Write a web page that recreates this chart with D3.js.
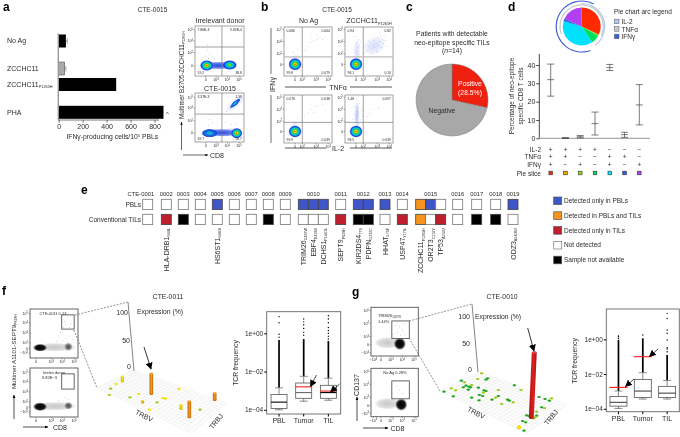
<!DOCTYPE html>
<html><head><meta charset="utf-8">
<style>html,body{margin:0;padding:0;background:#fff}svg{display:block;filter:blur(0.32px)}text{font-family:"Liberation Sans",Arial,sans-serif;fill:#2a2a2a}</style>
<script src="https://cdn.jsdelivr.net/npm/d3@7/dist/d3.min.js"></script></head><body>
<script>
// ---------- panel a ----------
const aCats = ['No Ag','ZCCHC11','ZCCHC11_{P1265H}','PHA'];
const aVals = [60,50,480,875];
const aErrHi = [72,60,482,877];
const aTicks = [0,200,400,600,800];
// flow blobs: [density kind, channel x, channel y, spread x, spread y, tilt]
const flowA1 = [['band',47,21,38,8,0],['warm',71,22,15,10,0],['hot',24,21,14,11,0]];
const flowA2 = [['band',55,19,42,8,0],['faint',82,79,26,9,-42],['cool',30,18,17,9,0],['cool',82,79,14,4.5,-42],['hot',85,18,12,11,0]];
const flowAtext1 = ['7.86E-3','9.82E-4','59.2','38.8'];
const flowAtext2 = ['3.37E-3','1.59','39.7','58.7'];
const scatA1 = [[22,40],[25,52],[28,35],[30,44],[35,38],[18,34],[60,36],[70,40],[78,34],[26,62],[40,34]];
const scatA2 = [[65,62],[72,68],[70,56],[92,90],[88,88],[62,40],[28,34],[35,38],[75,36],[84,35],[30,46]];
// ---------- panel b ----------
const flowB1 = [['faint',23,30,9,16,0],['hot',23,24,14,13,0]];
const flowB2 = [['faint',25,50,7,26,0],['faint',62,62,25,18,-30],['hot',23,24,14,13,0]];
const flowB3 = [['faint',23,32,9,15,0],['hot',23,24,14,13,0]];
const flowB4 = [['faint',25,58,6,32,0],['faint',25,58,4,28,0],['hot',23,24,14,13,0]];
const flowBtext = [['0.086','0.064','99.8','0.079'],['0.94','0.82','98.1','0.10'],['0.076','0.038','99.9','0.039'],['1.48','0.097','98.5','0.039']];
const scatB1 = [[55,68],[62,72],[70,74],[75,78],[68,82],[80,75],[50,60],[58,78],[28,55],[20,48],[30,42],[44,52]];
const scatB2 = [[45,52],[50,60],[52,68],[55,55],[58,64],[60,72],[62,58],[65,66],[68,78],[70,62],[72,70],[74,82],[76,58],[78,74],[80,66],[82,80],[84,72],[66,50],[56,46],[48,72],[42,62],[40,48],[38,58],[86,60],[72,88],[60,84],[22,48],[26,58],[24,66],[28,74],[21,80],[27,44],[30,62],[18,54],[33,70],[36,78]];
const scatB3 = [[50,62],[58,70],[66,76],[72,78],[80,80],[62,64],[28,52],[20,46],[42,56]];
const scatB4 = [[20,42],[22,50],[24,58],[26,66],[28,74],[30,82],[18,60],[32,48],[34,68],[20,76],[27,88],[24,92],[36,56],[16,50],[29,40],[45,55],[52,62],[60,70],[70,74]];
// ---------- panel c ----------
const cNames = ['Positive','Negative'];
const cVals = [28.5,71.5];
// ---------- panel d ----------
const dSlices = ['s1','s2','s3','s4','s5','s6','s7'];
const dMean = [32,0.15,0.8,8,38.6,2,18.2];
const dLow = [23,0,0.2,1.8,37,0.5,7.3];
const dHigh = [40.5,0.3,1.5,14.3,40.3,3.3,29.3];
const dIL2 = ['+','+','+','+','−','−','−'];
const dTNF = ['+','+','−','−','+','+','−'];
const dIFN = ['+','−','+','−','+','−','+'];
const dTicks = [0,10,20,30,40];
const dColors = ['#ff2a00','#f5a800','#8ae000','#00e060','#00e0ff','#2860e0','#b040f0'];
const dArcNames = ['IL-2','TNFα','IFNγ'];
const dArcColors = ['#b4c8ec','#c8c8c8','#3f60d8'];
const dArcStart = [0,250,160];
const dArcEnd = [145,475,388];
// ---------- panel e ----------
const ePatients = ['0001','0002','0003','0004','0005','0006','0007','0008','0009','0010','0011','0012','0013','0014','0015','0016','0017','0018','0019'];
const ePBL = [['N'],['N'],['N'],['N'],['P'],['N'],['N'],['N'],['N'],['P','P','P'],['N'],['P','P'],['P'],['N'],['B','P','N'],['N'],['N'],['N'],['P']];
const eTIL = [['N'],['T'],['X'],['N'],['N'],['N'],['N'],['X'],['N'],['N','N','N'],['T'],['X','X'],['N'],['T'],['B','N','T'],['N'],['X'],['X'],['N']];
const eGenes = [[1,0,'HLA-DRB1','S48L'],[4,0,'HS6ST1','S483I'],[9,0,'TRIM26','C487W'],[9,1,'EBF4','E426S'],[9,2,'DCHS1','P1441L'],[10,0,'SEPT9','P628H'],[11,0,'KIR2DS4','T7S'],[11,1,'PDPN','G232C'],[12,0,'HHAT','L75F'],[13,0,'USP47','Y17IL'],[14,0,'ZCCHC11','P1265H'],[14,1,'OR2T3','C132Y'],[14,2,'TP53','A159V'],[18,0,'ODZ3','A2408V']];
const eLegend = ['Detected only in PBLs','Detected in PBLs and TILs','Detected only in TILs','Not detected','Sample not available'];
const eCodes = ['P','B','T','N','X'];
const eColors = ['#3f55c8','#f7941d','#be1e2d','#ffffff','#000000'];
// ---------- panel f ----------
const flowF1 = [['inkFaint',52,22,46,9,0],['inkMid',80,23,9,9,0],['ink',21,21,15,8,0]];
const flowF2 = [['inkFaint',52,22,46,9,0],['inkMid',80,23,9,8,0],['ink',21,21,15,9,0]];
const gateF1 = [66,92,59,88];
const gateF2 = [66,92,57,88];
const scatF1 = [[72,75],[78,82],[74,68],[85,70],[70,62],[82,62],[60,45],[75,40],[82,45],[68,35],[55,33],[88,38],[78,33],[64,52]];
const scatF2 = [[74,40],[60,33],[80,36]];
const fFloorX = [78,62,58,120,146,178,201,219,226,267,330];
const fFloorY = [57,71,90,97,87,134,112,99,101,72,134];
const fFloorK = ['y','l','l','l','y','y','l','y','y','y','l'];
const fBarX = [97,158,273,374,184,298];
const fBarY = [50,113,133,105,87,157];
const fBarH = [10,3.3,7.5,11.6,35,25];
const fBarK = ['Y','A','Y','O','O','O'];
// ---------- panel g ----------
const flowG1 = [['inkFaint',35,27,28,12,0],['ink',61,25,13,13,0]];
const flowG2 = [['inkFaint',35,27,28,12,0],['ink',64,25,13,13,0]];
const gateG1 = [44,81,36,72];
const gateG2 = [44,81,37,74];
const scatG1 = [[60,60],[66,52],[55,48],[70,66],[52,62],[62,42],[72,44],[57,70],[48,45]];
const scatG2 = [[60,55],[68,48],[54,62]];
const gFloorX = [42,70,64,77,94,103,108,100,117,122,125,115,143,155,173,168,145,162,168,160,158,148,147,125,205,253,273,186,197,205,215,233,238,250,327,345,358,365,335,343,320,307,320,315,310,290,297,278,287,282];
const gFloorY = [80,94,70,76,47,52,62,67,65,67,60,74,42,25,40,44,68,76,78,83,93,90,106,98,75,61,75,104,98,93,117,104,107,112,96,102,107,100,127,129,140,142,152,157,160,151,153,168,172,197];
const gFloorK = ['g','g','l','l','g','l','g','g','g','g','l','g','l','l','g','g','g','g','g','l','g','g','g','g','l','g','l','g','l','g','l','g','g','l','g','g','g','l','g','l','l','g','g','l','l','g','g','g','g','g'];
const gBarX = [267,304];
const gBarY = [187,158];
const gBarH = [1.5,100];
const gBarK = ['Y','R'];
// ---------- TCR boxplots ----------
const boxCats = ['PBL','Tumor','TIL'];
const fLo=[-4,-3.55,-3.5], fQ1=[-3.93,-3.4,-3.4], fMed=[-3.6,-3.1,-3.1], fQ3=[-3.2,-2.6,-2.72], fHi=[-2.85,-2.25,-2.35], fBand=[-0.35,-0.3,-0.4];
const fDots=[[-0.2,-0.05,0.55,0.87],[-0.1,0.05,0.25,0.45,0.6,0.75],[-0.3,-0.15,0,0.15,0.3,0.55,0.75,0.92]];
const fRed=[null,-2.8,-3.02];
const gLo=[-3.98,-3.44,-3.44], gQ1=[-3.85,-3.35,-3.35], gMed=[-3.63,-2.98,-3.1], gQ3=[-3.29,-2.31,-2.71], gHi=[-2.98,-1.92,-2.37], gBand=[-0.04,0.06,-0.9];
const gDots=[[0.05,0.15,0.2],[0.25],[-0.71,-0.56,-0.48,-0.04,0.35,0.54,1.2,1.5]];
const gRed=[-2.77,-1,null];
const boxTickV=[0,-2,-4];
const boxTickL=['1e+00','1e−02','1e−04'];

// ---------- helpers ----------
const svg = d3.select('body').append('svg').attr('width',680).attr('height',437).attr('viewBox','0 0 680 437');
const defs = svg.append('defs');
const grads = {
 hot:[[0,'#e01010',1],[.16,'#ffd000',1],[.36,'#30d030',1],[.56,'#00d0e0',1],[.8,'#1040e0',1],[1,'#3050f0',0]],
 warm:[[0,'#f0e020',1],[.2,'#30d040',1],[.45,'#00c8e0',1],[.78,'#1040e0',1],[1,'#3050f0',0]],
 cool:[[0,'#20d8d0',1],[.5,'#1070e0',1],[.82,'#1040e0',.9],[1,'#3050f0',0]],
 band:[[0,'#2040e0',.95],[.7,'#2040e0',.6],[1,'#2040e0',0]],
 faint:[[0,'#4060e0',.2],[.7,'#4060e0',.1],[1,'#4060e0',0]],
 ink:[[0,'#000',1],[.62,'#000',.92],[1,'#000',0]],
 inkMid:[[0,'#000',.7],[.6,'#000',.4],[1,'#000',0]],
 inkFaint:[[0,'#444',.3],[.7,'#444',.18],[1,'#444',0]]
};
Object.entries(grads).forEach(([k,st])=>{
  const g=defs.append('radialGradient').attr('id','g-'+k);
  st.forEach(s=>g.append('stop').attr('offset',s[0]).attr('stop-color',s[1]).attr('stop-opacity',s[2]));
});
const cyl={O:['#bc6406','#f39a1e','#e08512','#f3a83c'],Y:['#c8b400','#f2e400','#e0d000','#fff040'],A:['#c89000','#f2c000','#e0a800','#ffd040'],R:['#a81414','#e02020','#cc1a1a','#e84040']};
Object.entries(cyl).forEach(([k,c])=>{
  const g=defs.append('linearGradient').attr('id','c-'+k);
  g.append('stop').attr('offset',0).attr('stop-color',c[0]);
  g.append('stop').attr('offset',.55).attr('stop-color',c[1]);
  g.append('stop').attr('offset',1).attr('stop-color',c[0]);
});
defs.append('marker').attr('id','ah').attr('viewBox','0 0 10 10').attr('refX',9).attr('refY',5).attr('markerWidth',5).attr('markerHeight',5).attr('markerUnits','strokeWidth').attr('orient','auto')
  .append('path').attr('d','M0,1L10,5L0,9Z').attr('fill','#000');
defs.append('marker').attr('id','ab').attr('viewBox','0 0 10 10').attr('refX',9).attr('refY',5).attr('markerWidth',7).attr('markerHeight',7).attr('markerUnits','userSpaceOnUse').attr('orient','auto')
  .append('path').attr('d','M0,0L10,5L0,10Z').attr('fill','#000');

function T(x,y,s,opt={}){
  const t=svg.append('text').attr('x',x).attr('y',y).attr('font-size',opt.size||7).attr('text-anchor',opt.anchor||'start');
  if(opt.bold)t.attr('font-weight','bold');
  if(opt.fill)t.style('fill',opt.fill);
  if(opt.rot!==undefined)t.attr('transform',`rotate(${opt.rot},${x},${y})`);
  const parts=s.split(/(_\{[^}]*\}|\^\{[^}]*\}|\*[^*]+\*)/).filter(p=>p.length);
  let shift=0;
  const base=opt.size||7, sm=opt.sub||base*0.55;
  parts.forEach(p=>{
    if(p[0]==='_'&&p[1]==='{'){const d=base*0.22-shift;shift+=d;t.append('tspan').attr('dy',d).attr('font-size',sm).text(p.slice(2,-1));}
    else if(p[0]==='^'&&p[1]==='{'){const d=-base*0.35-shift;shift+=d;t.append('tspan').attr('dy',d).attr('font-size',sm).text(p.slice(2,-1));}
    else if(p[0]==='*'){const d=-shift;shift+=d;t.append('tspan').attr('dy',d).attr('font-style','italic').text(p.slice(1,-1));}
    else{const d=-shift;shift+=d;t.append('tspan').attr('dy',d).text(p);}
  });
  return t;
}
function L(x1,y1,x2,y2,st='#555',w=0.8,extra={}){
  const l=svg.append('line').attr('x1',x1).attr('y1',y1).attr('x2',x2).attr('y2',y2).attr('stroke',st).attr('stroke-width',w);
  Object.entries(extra).forEach(([k,v])=>l.attr(k,v));
  return l;
}
function flow(f){
  const x=d3.scaleLinear().domain([0,100]).range([f.x,f.x+f.w]);
  const y=d3.scaleLinear().domain([0,100]).range([f.y+f.h,f.y]);
  const id='clip'+Math.round(f.x)+'_'+Math.round(f.y);
  defs.append('clipPath').attr('id',id).append('rect').attr('x',f.x).attr('y',f.y).attr('width',f.w).attr('height',f.h);
  const g=svg.append('g').attr('clip-path',`url(#${id})`);
  if(f.scat) g.selectAll('circle').data(f.scat).join('circle').attr('cx',d=>x(d[0])).attr('cy',d=>y(d[1])).attr('r',.4).attr('fill',f.dot||'#555').attr('fill-opacity',.7);
  g.selectAll('ellipse').data(f.blobs).join('ellipse')
    .attr('cx',d=>x(d[1])).attr('cy',d=>y(d[2]))
    .attr('rx',d=>x(d[3])-x(0)).attr('ry',d=>y(0)-y(d[4]))
    .attr('transform',d=>d[5]?`rotate(${d[5]},${x(d[1])},${y(d[2])})`:null)
    .attr('fill',d=>`url(#g-${d[0]})`);
  svg.append('rect').attr('x',f.x).attr('y',f.y).attr('width',f.w).attr('height',f.h).attr('fill','none').attr('stroke',f.frame||'#999').attr('stroke-width',f.fw||.9);
  if(f.qx!==undefined){L(x(f.qx),f.y,x(f.qx),f.y+f.h,'#777',.7);L(f.x,y(f.qy),f.x+f.w,y(f.qy),f.qw?'#bbb':'#777',f.qw||.7);}
  if(f.gate){const q=f.gate;svg.append('rect').attr('x',x(q[0])).attr('y',y(q[3])).attr('width',x(q[1])-x(q[0])).attr('height',y(q[2])-y(q[3])).attr('fill','none').attr('stroke','#555').attr('stroke-width',.9);}
  f.xt.forEach((v,i)=>{L(x(v),f.y+f.h,x(v),f.y+f.h+1.5,'#555',.5);T(x(v),f.y+f.h+5,f.xl[i],{size:3.6,anchor:'middle',sub:2.6});});
  f.yt.forEach((v,i)=>{L(f.x-1.5,y(v),f.x,y(v),'#555',.5);T(f.x-2,y(v)+1.3,f.yl[i],{size:3.6,anchor:'end',sub:2.6});});
  if(f.q){T(f.x+2.5,f.y+5,f.q[0],{size:3.4});T(f.x+f.w-2,f.y+5,f.q[1],{size:3.4,anchor:'end'});T(f.x+2.5,f.y+f.h-2,f.q[2],{size:3.4});T(f.x+f.w-2,f.y+f.h-2,f.q[3],{size:3.4,anchor:'end'});}
}
// Panel letters
[['a',3,11],['b',261,11],['c',406,11],['d',508,11],['e',81,194],['f',2,295],['g',352,296]].forEach(d=>T(d[1],d[2],d[0],{size:12,bold:true,fill:'#000'}));

// ---------- panel a ----------
{
  const x=d3.scaleLinear().domain([0,800]).range([58.7,154.5]);
  const y=d3.scaleOrdinal().domain(aCats).range([41,68.5,84.5,112.3]);
  T(152.5,12,'CTE-0015',{anchor:'middle',size:6.5});
  aCats.forEach((c,i)=>{
    T(7,y(c)+2.4,c,{size:7,sub:3.8});
    if(i<2) L(x(aVals[i]),y(c),x(aErrHi[i]),y(c),'#888',1.2), L(x(aErrHi[i]),y(c)-3,x(aErrHi[i]),y(c)+3,'#888',.6);
  });
  svg.selectAll('rect.abar').data(aCats).join('rect').attr('class','abar')
    .attr('x',x(0)).attr('y',d=>y(d)-6.5).attr('height',13)
    .attr('width',(d,i)=>x(aVals[i])-x(0))
    .attr('fill',(d,i)=>i===1?'#aaa':'#000').attr('stroke',(d,i)=>i===1?'#555':'none').attr('stroke-width',.6);
  const ax=svg.append('g').attr('transform','translate(0,120)').call(d3.axisBottom(x).tickValues(aTicks).tickSize(2.5).tickPadding(1.5));
  ax.selectAll('text').attr('font-size',7).attr('font-family','Liberation Sans');
  ax.select('.domain').attr('stroke','#777').attr('d','M58,0H159');
  ax.selectAll('.tick line').attr('stroke','#666');
  L(58.3,33.5,58.3,120,'#999',1.4);
  T(167.5,115.5,'^',{size:6,anchor:'middle'});
  T(112.3,139,'IFNγ-producing cells/10^{5} PBLs',{size:6.8,anchor:'middle',sub:4});
  T(220,22.5,'Irrelevant donor',{size:7,anchor:'middle'});
  T(220,90.5,'CTE-0015',{size:7,anchor:'middle'});
  T(184,75,'Multimer B2705-ZCCHC11_{P1265H}',{size:6.3,anchor:'middle',rot:-90,sub:3.6});
  L(181.5,150,181.5,122,'#000',.6,{'marker-end':'url(#ah)'});
  L(183,155,208,155,'#000',.6,{'marker-end':'url(#ah)'});
  T(210,157.5,'CD8',{size:7});
  const xt=[22,43,66,90], xl=['0','10^{3}','10^{4}','10^{5}'];
  flow({x:195,y:26,w:49,h:50,blobs:flowA1,scat:scatA1,dot:'#4060e0',qx:55,qy:58,q:flowAtext1,xt,xl,yt:[92,70,47,20],yl:['10^{5}','10^{4}','10^{2}','0']});
  flow({x:195,y:93,w:49,h:49,blobs:flowA2,scat:scatA2,dot:'#4060e0',qx:55,qy:57,q:flowAtext2,xt,xl,yt:[91,69,43,18],yl:['10^{5}','10^{4}','10^{2}','0']});
}
// ---------- panel b ----------
{
  T(337,12,'CTE-0015',{size:6.5,anchor:'middle'});
  T(308.5,23,'No Ag',{size:7,anchor:'middle'});
  T(369,23,'ZCCHC11_{P1265H}',{size:7,anchor:'middle',sub:3.8});
  const xt=[23,38,67,92], xl=['0','10^{2}','10^{3}','10^{4}'], yt=[95,70,45,24], yl=['10^{5}','10^{4}','10^{2}','0'];
  const cfg=[[284,27,flowB1,scatB1],[345,27,flowB2,scatB2],[284,95,flowB3,scatB3],[345,95,flowB4,scatB4]];
  cfg.forEach((c,i)=>flow({x:c[0],y:c[1],w:48,h:i<2?49:48,blobs:c[2],scat:c[3],dot:'#5070e0',qx:38,qy:i<2?39:43,qw:i<2?1.3:0,q:flowBtext[i],xt,xl,yt,yl}));
  L(271,28,271,74,'#999',1.4);
  L(271,95,271,143,'#999',1.4);
  L(285,87,326,87,'#444',.9); L(350,87,392,87,'#444',.9);
  T(338,89.5,'TNFα',{size:7,anchor:'middle'});
  L(285,148,326,148,'#444',.9); L(350,148,392,148,'#444',.9);
  T(338,150.5,'IL-2',{size:7,anchor:'middle'});
  T(274.5,84.5,'IFNγ',{size:7,anchor:'middle',rot:-90});
}
// ---------- panel c ----------
{
  T(452,35.5,'Patients with detectable',{size:6.8,anchor:'middle'});
  T(452,44.5,'neo-epitope specific TILs',{size:6.8,anchor:'middle'});
  T(452,52.5,'(*n*=14)',{size:6.8,anchor:'middle'});
  const pie=d3.pie().sort(null)(cVals);
  const arc=d3.arc().innerRadius(0).outerRadius(36);
  svg.append('g').attr('transform','translate(452,100)').selectAll('path').data(pie).join('path')
    .attr('d',arc).attr('fill',(d,i)=>['#f02010','#a8a8a8'][i]).attr('stroke','#777').attr('stroke-width',.5);
  T(470,86,cNames[0],{size:6.8,anchor:'middle',fill:'#fff'});
  T(470,95,'(28.5%)',{size:6.8,anchor:'middle',fill:'#fff'});
  T(442,112.5,cNames[1],{size:6.8,anchor:'middle'});
}
// ---------- panel d ----------
{
  const cx=581.7,cy=26.5;
  const pie=d3.pie().sort(null)(dMean);
  const g=svg.append('g').attr('transform',`translate(${cx},${cy})`);
  g.selectAll('path.s').data(pie).join('path').attr('class','s').attr('d',d3.arc().innerRadius(0).outerRadius(19)).attr('fill',(d,i)=>dColors[i]);
  const radii=[23,21.7,25.5];
  dArcNames.forEach((n,i)=>{
    g.append('path').attr('d',d3.arc().innerRadius(radii[i]-.6).outerRadius(radii[i]+.6)({startAngle:dArcStart[i]*Math.PI/180,endAngle:dArcEnd[i]*Math.PI/180})).attr('fill',dArcColors[i]);
    const ly=[22,29.5,37][i];
    svg.append('rect').attr('x',614.5).attr('y',ly-2.8).attr('width',4.5).attr('height',4.5).attr('fill',dArcColors[i]).attr('stroke','#556').attr('stroke-width',.5);
    T(621.5,ly+2,n,{size:6.5});
  });
  T(614,14,'Pie chart arc legend',{size:6.5});
  const x=d3.scalePoint().domain(dSlices).range([550.7,639.3]);
  const y=d3.scaleLinear().domain([0,46]).range([138.3,54]);
  const ax=svg.append('g').attr('transform','translate(539.3,0)').call(d3.axisLeft(y).tickValues(dTicks).tickSize(3).tickPadding(1));
  ax.selectAll('text').attr('font-size',7).attr('font-family','Liberation Sans');
  ax.select('.domain').attr('stroke','#444').attr('d','M0,54V138.3');
  ax.selectAll('.tick line').attr('stroke','#444');
  L(539,138.3,650,138.3,'#777',.8);
  dSlices.forEach((s,i)=>{
    const X=x(s);
    L(X,y(dLow[i]),X,y(dHigh[i]),'#444',.7);
    [dLow[i],dMean[i],dHigh[i]].forEach(v=>L(X-3.5,y(v),X+3.5,y(v),'#444',.7));
    T(X,151.5,dIL2[i],{size:6.5,anchor:'middle'});
    T(X,159.2,dTNF[i],{size:6.5,anchor:'middle'});
    T(X,167.2,dIFN[i],{size:6.5,anchor:'middle'});
    svg.append('rect').attr('x',X-1.8).attr('y',171.2).attr('width',3.6).attr('height',3.6).attr('fill',dColors[i]).attr('stroke','#333').attr('stroke-width',.6);
  });
  [['IL-2',151.5],['TNFα',159.2],['IFNγ',167.2],['Pie slice',175.5]].forEach(d=>T(541,d[1],d[0],{size:6.5,anchor:'end'}));
  T(514,96,'Percentage of neo-epitope',{size:6.5,anchor:'middle',rot:-90});
  T(522.5,96,'specific CD8 T cells',{size:6.5,anchor:'middle',rot:-90});
}
// ---------- panel e ----------
{
  const col=d3.scaleOrdinal().domain(eCodes).range(eColors);
  const gaps=[0,8.6,7,7,7,7,7,7,7,8,7.4,7.6,6.7,7.3,8.4,7,9,9,7.3];
  const y=d3.scaleOrdinal().domain(['PBLs','Conventional TILs']).range([199.3,214.3]);
  let cur=142.7;
  const lefts=ePatients.map((p,i)=>{cur+=gaps[i];const l=cur;cur+=ePBL[i].length*10;return l;});
  ePatients.forEach((p,i)=>{
    const n=ePBL[i].length, l=lefts[i];
    T(l+n*5,196,p,{size:5.8,anchor:'middle'});
    [[ePBL[i],'PBLs'],[eTIL[i],'Conventional TILs']].forEach(([arr,row])=>{
      svg.append('g').selectAll('rect').data(arr).join('rect')
        .attr('x',(d,j)=>l+j*10).attr('y',y(row)).attr('width',10).attr('height',10.3)
        .attr('fill',d=>col(d)).attr('stroke',d=>d==='N'?'#777':'#444').attr('stroke-width',.8);
    });
  });
  T(141,196,'CTE-',{size:5.8,anchor:'end'});
  T(141,207,'PBLs',{size:6.5,anchor:'end'});
  T(141,221.5,'Conventional TILs',{size:6.5,anchor:'end'});
  eGenes.forEach(g=>{
    const X=lefts[g[0]]+g[1]*10+5+2.5;
    T(X,228,g[2]+'_{'+g[3]+'}',{size:7,sub:3.7,anchor:'end',rot:-90});
  });
  eLegend.forEach((n,i)=>{
    const ly=197+i*14.8;
    svg.append('rect').attr('x',553.7).attr('y',ly).attr('width',8).attr('height',7.6).attr('fill',eColors[i]).attr('stroke',i===3?'#777':'#555').attr('stroke-width',.7);
    T(564,ly+6,n,{size:6.5});
  });
}
// ---------- panels f, g surfaces ----------
function surface(o){
  const X=d3.scaleLinear().domain([0,450]).range([o.x0,o.x0+150]);
  const Y=d3.scaleLinear().domain([0,216]).range([365,437]);
  const [Lc,Bc,Rc,Fc]=o.corners;
  const lerp=(a,b,t)=>[a[0]+(b[0]-a[0])*t,a[1]+(b[1]-a[1])*t];
  const g=svg.append('g').attr('stroke','#e2e2e2').attr('stroke-width',.4);
  d3.range(0,1.0001,1/24).forEach(t=>{const a=lerp(Lc,Fc,t),b=lerp(Bc,Rc,t);g.append('line').attr('x1',a[0]).attr('y1',a[1]).attr('x2',b[0]).attr('y2',b[1]);});
  d3.range(0,1.0001,1/14).forEach(t=>{const a=lerp(Lc,Bc,t),b=lerp(Fc,Rc,t);g.append('line').attr('x1',a[0]).attr('y1',a[1]).attr('x2',b[0]).attr('y2',b[1]);});
  const flat={g:'#1ea51e',l:'#9ccc1a',y:'#f2e000'};
  svg.append('g').selectAll('ellipse').data(o.fx).join('ellipse')
    .attr('cx',d=>X(d)).attr('cy',(d,i)=>Y(o.fy[i])).attr('rx',1.8).attr('ry',1.1).attr('fill',(d,i)=>flat[o.fk[i]]);
  const H=d3.scaleLinear().domain([0,100]).range([0,53]);
  const persp=d3.scaleLinear().domain([372,432]).range([1,1.3]);
  o.bx.forEach((v,i)=>{
    const bx=X(v),by=Y(o.by[i]),k=o.bk[i],h=H(o.bh[i])*persp(by),w=k==='R'?5:k==='O'?3.6:3;
    if(o.bh[i]<2){svg.append('circle').attr('cx',bx).attr('cy',by).attr('r',2).attr('fill','#f2e400').attr('stroke','#d8c800').attr('stroke-width',.3);return;}
    const lean=k==='R'?h*0.045:0;
    svg.append('ellipse').attr('cx',bx).attr('cy',by).attr('rx',w/2).attr('ry',w/4).attr('fill',cyl[k][0]);
    svg.append('path').attr('d',`M${bx-w/2},${by}L${bx-w/2+lean},${by-h}H${bx+w/2+lean}L${bx+w/2},${by}Z`).attr('fill',`url(#c-${k})`);
    svg.append('ellipse').attr('cx',bx+lean).attr('cy',by-h).attr('rx',w/2).attr('ry',w/4).attr('fill',cyl[k][3]);
  });
  const [ze0,ze1]=o.zline;
  L(ze0[0],ze0[1],ze1[0],ze1[1],'#666',.8);
  L(o.g1[0],o.g1[1],ze1[0],ze1[1],'#666',.7,{'stroke-dasharray':'2 1.3'});
  L(o.g2[0],o.g2[1],Lc[0],Lc[1],'#666',.7,{'stroke-dasharray':'2 1.3'});
  o.zt.forEach(d=>T(d[0],d[1],d[2],{size:7,anchor:'end'}));
  T(o.vl[0],o.vl[1],'TRBV',{size:7,anchor:'middle',rot:27});
  T(o.jl[0],o.jl[1],'TRBJ',{size:7,anchor:'middle',rot:-50});
  L(o.arrow[0],o.arrow[1],o.arrow[2],o.arrow[3],'#000',.8,{'marker-end':'url(#ab)'});
}
// f
{
  const xt=[12.5,44,67,92],xl=['0','10^{3}','10^{4}','10^{5}'],yt=[91,72,51,31,20,10],yl=['10^{5}','10^{4}','10^{3}','10^{2}','0','−10^{2}'];
  flow({x:30,y:309,w:48,h:49,blobs:flowF1,scat:scatF1,gate:gateF1,frame:'#555',xt,xl,yt,yl});
  flow({x:30,y:368,w:48,h:49,blobs:flowF2,scat:scatF2,gate:gateF2,frame:'#555',xt,xl,yt,yl});
  T(53,314.5,'CTE-0011 0.13',{size:4,anchor:'middle'});
  T(54,373.5,'Irrelev donor',{size:4,anchor:'middle'});
  T(42,379,'9.82E−3',{size:4});
  T(16,351.5,'Multimer A1101-SEPT9_{P628H}',{size:6.2,anchor:'middle',rot:-90,sub:3.6});
  L(14,419,14,395,'#000',.7,{'marker-end':'url(#ah)'});
  L(23,427,48,427,'#000',.7,{'marker-end':'url(#ah)'});
  T(53,429.5,'CD8',{size:7});
  T(168,299,'CTE-0011',{size:6.8,anchor:'middle'});
  T(160,313.5,'Expression (%)',{size:6.8,anchor:'middle'});
  surface({x0:90,corners:[[97,388],[133,370],[226,403],[192,433]],fx:fFloorX,fy:fFloorY,fk:fFloorK,bx:fBarX,by:fBarY,bh:fBarH,bk:fBarK,
    zline:[[134,371],[128,302]],g1:[75,315],g2:[74,330],zt:[[128,314.5,'100'],[130,342.5,'50'],[131,368.5,'0']],vl:[143,418],jl:[218,423],arrow:[144,347,151,369]});
}
// g
{
  const xt=[5,21,42,66,91],xl=['−10^{3}','0','10^{3}','10^{4}','10^{5}'],yt=[93,67,40,23,7],yl=['10^{5}','10^{4}','10^{3}','0','−10^{3}'];
  flow({x:371,y:307.3,w:47.3,h:48.7,blobs:flowG1,scat:scatG1,gate:gateG1,frame:'#555',xt,xl,yt,yl});
  flow({x:371,y:368.3,w:47.3,h:48.4,blobs:flowG2,scat:scatG2,gate:gateG2,frame:'#555',xt,xl,yt,yl});
  T(378,317,'TRIM26_{C487W}',{size:4,sub:2.6});
  T(378,322.5,'1.44%',{size:4});
  T(395,374,'No Ag 0.28%',{size:4,anchor:'middle'});
  T(359,385,'CD137',{size:7,anchor:'middle',rot:-90});
  L(357,421,357,397,'#000',.7,{'marker-end':'url(#ah)'});
  L(363,428,388,428,'#000',.7,{'marker-end':'url(#ah)'});
  T(390.5,430.5,'CD8',{size:7});
  T(502,299,'CTE-0010',{size:6.8,anchor:'middle'});
  T(475,318.5,'Expression (%)',{size:6.8});
  surface({x0:430,corners:[[440,391],[480,372],[567,405],[527,433]],fx:gFloorX,fy:gFloorY,fk:gFloorK,bx:gBarX,by:gBarY,bh:gBarH,bk:gBarK,
    zline:[[478,372],[472,304]],g1:[409,321],g2:[409,338],zt:[[470,318.5,'100'],[470,345.5,'50'],[472,371.5,'0']],vl:[475,415],jl:[553,419],arrow:[527.7,328,534,351]});
}
// ---------- boxplots ----------
function box(o){
  const x=d3.scaleBand().domain(boxCats).range([o.l,o.r]);
  const c=d=>x(d)+x.bandwidth()/2;
  const y=d3.scaleLinear().domain(o.dom).range(o.rng);
  svg.append('rect').attr('x',o.l).attr('y',o.rng[1]).attr('width',o.r-o.l).attr('height',o.rng[0]-o.rng[1]).attr('fill','none').attr('stroke','#666').attr('stroke-width',.9);
  const ay=svg.append('g').attr('transform',`translate(${o.l},0)`).call(d3.axisLeft(y).tickValues(boxTickV).tickFormat((d,i)=>boxTickL[i]).tickSize(2.5).tickPadding(1));
  ay.select('.domain').remove(); ay.selectAll('text').attr('font-size',6.5).attr('font-family','Liberation Sans');
  const ax=svg.append('g').attr('transform',`translate(0,${o.rng[0]})`).call(d3.axisBottom(x).tickSize(2.5).tickPadding(2));
  ax.select('.domain').remove(); ax.selectAll('text').attr('font-size',7).attr('font-family','Liberation Sans');
  T(o.lx,o.ly,'TCR frequency',{size:6.8,anchor:'middle',rot:-90});
  const bw=o.bw;
  boxCats.forEach((k,i)=>{
    const X=c(k);
    L(X,y(o.hi[i]),X,y(o.band[i]),'#000',1.7);
    svg.append('g').selectAll('circle').data(o.dots[i]).join('circle').attr('cx',X).attr('cy',d=>y(d)).attr('r',.7).attr('fill','#000');
    L(X,y(o.lo[i]),X,y(o.q1[i]),'#555',.7);
    L(X,y(o.q3[i]),X,y(o.hi[i]),'#555',.7);
    L(X-4,y(o.hi[i]),X+4,y(o.hi[i]),'#777',.8);
    L(X-4,y(o.lo[i]),X+4,y(o.lo[i]),'#555',.7);
    svg.append('rect').attr('x',X-bw/2).attr('y',y(o.q3[i])).attr('width',bw).attr('height',y(o.q1[i])-y(o.q3[i])).attr('fill','#fff').attr('stroke','#555').attr('stroke-width',.8);
    L(X-bw/2,y(o.med[i]),X+bw/2,y(o.med[i]),o.medc[i],1.1);
    if(o.red[i]!==null) L(X-o.redw/2,y(o.red[i]),X+o.redw/2,y(o.red[i]),'#ff1a1a',1.1);
  });
  o.arrows.forEach(a=>L(a[0],a[1],a[2],a[3],'#000',.7,{'marker-end':'url(#ab)'}));
}
box({l:266.7,r:340.7,dom:[-4.22,1.13],rng:[414,311.7],bw:16,lo:fLo,q1:fQ1,med:fMed,q3:fQ3,hi:fHi,band:fBand,dots:fDots,red:fRed,redw:16,medc:['#000','#666','#000'],
  lx:238,ly:363,arrows:[[316.5,375,310.5,386.5],[339.5,384,330.5,392]]});
box({l:606.3,r:679.3,dom:[-4.17,1.75],rng:[411.7,309],bw:17,lo:gLo,q1:gQ1,med:gMed,q3:gQ3,hi:gHi,band:gBand,dots:gDots,red:gRed,redw:18,medc:['#444','#444','#444'],
  lx:577,ly:361,arrows:[[658,349,649.5,356.5],[634,379,625.5,386.5]]});
</script>
</body></html>
